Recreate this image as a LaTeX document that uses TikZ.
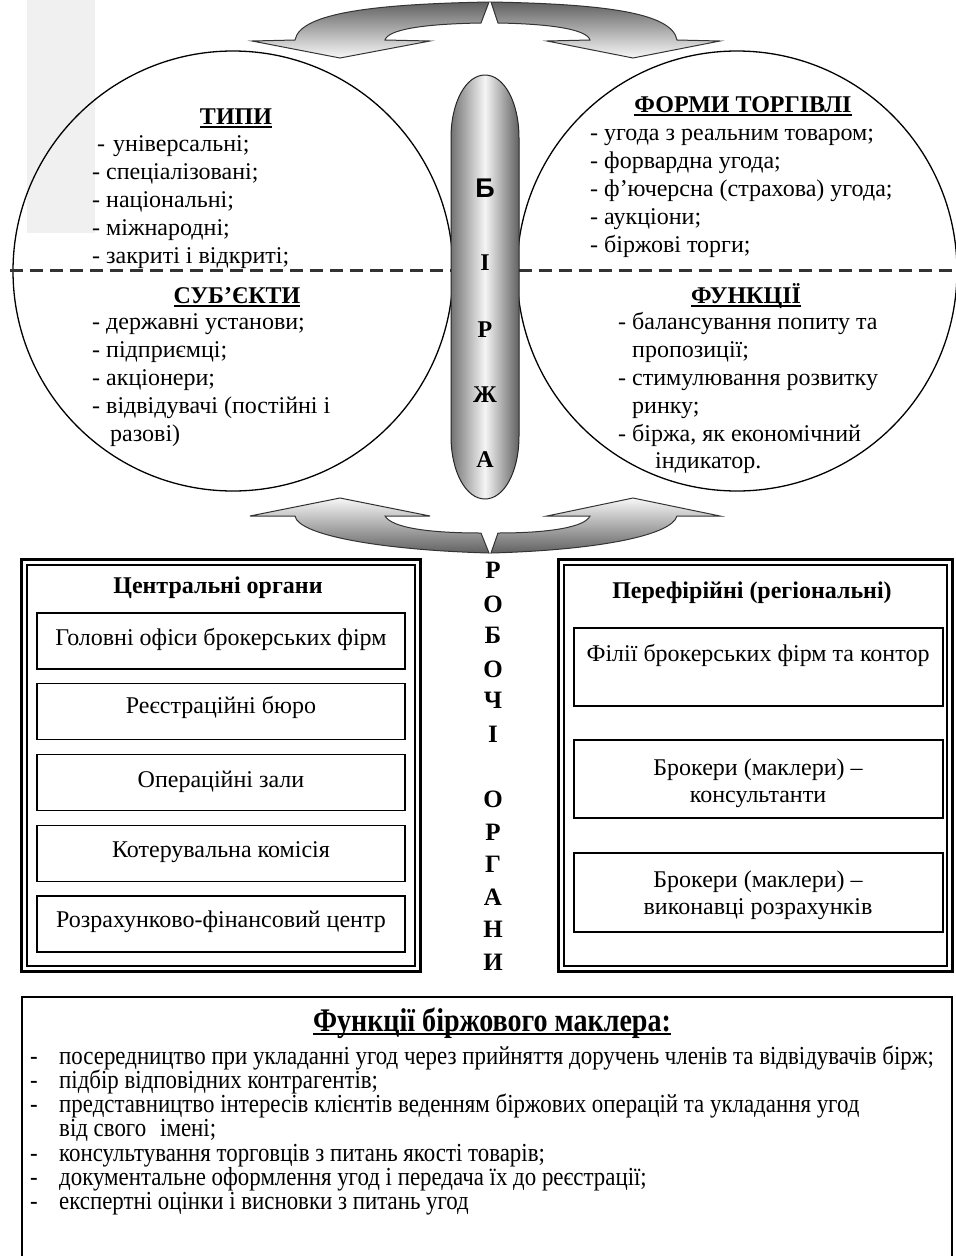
\documentclass[tikz,border=0pt]{standalone}
\usepackage{fontspec}
\setmainfont{Liberation Serif}
\newfontfamily\pillsans{Liberation Sans}
\newfontfamily\narrowserif{Liberation Serif}[FakeStretch=0.88]
\newfontfamily\narrowtitle{Liberation Serif}[FakeStretch=0.85]
% underlined heading with a heavier rule
\newcommand\headrule[1]{\setbox0=\hbox{#1}\rlap{\rule[-3.5pt]{\wd0}{1.8pt}}\box0}
\definecolor{panelgray}{HTML}{F0F0F0}
\begin{document}
\begin{tikzpicture}[x=1pt,y=-1pt,
  item/.style={anchor=base west, inner sep=0pt, font=\fontsize{24}{28}\selectfont},
  heading/.style={anchor=base, inner sep=0pt, font=\bfseries\fontsize{24}{28}\selectfont},
  boxtext/.style={anchor=base, inner sep=0pt, font=\fontsize{24}{28}\selectfont},
  cell/.style={draw, line width=1.3pt, rectangle, inner sep=0pt},
  spine/.style={anchor=base, inner sep=0pt, font=\bfseries\fontsize{24}{28}\selectfont},
  sideletter/.style={anchor=base, inner sep=0pt, font=\bfseries\fontsize{25}{30}\selectfont},
  brief/.style={anchor=base west, inner sep=0pt, font=\narrowserif\fontsize{26}{24}\selectfont},
  ring/.style={circle, draw, line width=1.3pt, minimum size=440pt, inner sep=0pt},
  dashline/.style={line width=3pt, draw=black!80, dash pattern=on 13pt off 7pt},
  bendarrow/.style={draw=black!80, line width=1pt, line join=miter},
]
\useasboundingbox (0,0) rectangle (956,1256);

% light panel behind the upper left block
\fill[panelgray] (27,0) rectangle (95,233);

% the two big circles
\node[ring] (lc) at (233,271) {};
\node[ring] (rc) at (737,271) {};

% dashed separators
\draw[dashline] (10,270) -- (452,270);
\draw[dashline] (519,270) -- (956,270);

% upper left: types
\node[heading] (typh) at (236,124) {\headrule{ТИПИ}};
\node[item] (typ1) at (97,151) {-\hspace{8pt}універсальні;};
\foreach \t [count=\i from 2] in {спеціалізовані;, національні;, міжнародні;, закриті і відкриті;}
  \node[item] (typ\i) at (92,151+28*\i-28) {- \t};

% upper right: forms of trade
\node[heading] (frmh) at (743,112) {\headrule{ФОРМИ ТОРГІВЛІ}};
\foreach \t [count=\i] in {угода з реальним товаром;, форвардна угода;, ф’ючерсна (страхова) угода;, аукціони;, біржові торги;}
  \node[item] (frm\i) at (590,112+28*\i) {- \t};

% lower left: subjects
\node[heading] (subh) at (237,303) {\headrule{СУБ’ЄКТИ}};
\foreach \t [count=\i] in {державні установи;, підприємці;, акціонери;, відвідувачі (постійні і}
  \node[item] (sub\i) at (92,301+28*\i) {- \t};
\node[item] (sub5) at (110,441) {разові)};

% lower right: functions
\node[heading] (funh) at (746,303) {\headrule{ФУНКЦІЇ}};
\node[item] (fun1) at (618,329) {- балансування попиту та};
\node[item] (fun2) at (632,357) {пропозиції;};
\node[item] (fun3) at (618,385) {- стимулювання розвитку};
\node[item] (fun4) at (632,413) {ринку;};
\node[item] (fun5) at (618,441) {- біржа, як економічний};
\node[item] (fun6) at (655,468) {індикатор.};

% curved double arrow on top
\path[bendarrow, top color=black!62, bottom color=black!3]
  (252,41) -- (340,58) -- (430,41) -- (385,40)
  .. controls (388,30) and (420,24) .. (481,23)
  -- (489,2)
  .. controls (380,4) and (300,12) .. (295,40) -- cycle;
\path[bendarrow, top color=black!62, bottom color=black!3]
  (491,2) .. controls (600,4) and (672,12) .. (677,40)
  -- (720,41) -- (633,58) -- (547,41) -- (590,40)
  .. controls (587,30) and (555,24) .. (498,23) -- cycle;

% curved double arrow below the circles
\path[bendarrow, top color=black!3, bottom color=black!62]
  (250,516) -- (340,498) -- (430,516) -- (385,516)
  .. controls (392,528) and (430,533) .. (481,533)
  -- (489,553)
  .. controls (380,550) and (298,535) .. (295,516) -- cycle;
\path[bendarrow, top color=black!3, bottom color=black!62]
  (491,553) .. controls (600,550) and (672,535) .. (677,516)
  -- (720,516) -- (633,498) -- (547,516) -- (590,516)
  .. controls (585,527) and (550,533) .. (498,533) -- cycle;

% central capsule
\path[draw=black!85, line width=1pt, left color=black!55, right color=black!62, middle color=black!4]
  (451,138) .. controls (451,102) and (466,75) .. (485,75)
  .. controls (504,75) and (519,102) .. (519,138)
  -- (519,436) .. controls (519,472) and (504,499) .. (485,499)
  .. controls (466,499) and (451,472) .. (451,436) -- cycle;
\node[anchor=base, inner sep=0pt, font=\pillsans\bfseries\fontsize{27}{30}\selectfont] (sp1) at (485,197) {Б};
\foreach \ch/\yy [count=\i from 2] in {І/270, Р/337, Ж/402, А/467}
  \node[spine] (sp\i) at (485,\yy) {\ch};

% vertical caption between the frames
\foreach \ch/\yy [count=\i] in {Р/578, О/612, Б/643, О/677, Ч/708, І/742, О/807, Р/840, Г/872, А/905, Н/937, И/970}
  \node[sideletter] (ro\i) at (493,\yy) {\ch};

% left frame: central bodies
\draw[line width=3pt] (21.5,559.5) rectangle (420.5,971.5);
\draw[line width=1.8pt] (27,565) rectangle (415,966);
\node[heading] (cenh) at (218,593) {Центральні органи};
\foreach \t/\yc/\yb [count=\i] in {Головні офіси брокерських фірм/641/645, Реєстраційні бюро/711.5/713, Операційні зали/782.5/787, Котерувальна комісія/853.5/857, Розрахунково-фінансовий центр/924/927}{
  \node[cell, minimum width=368pt, minimum height=56pt] (cb\i) at (221,\yc) {};
  \node[boxtext] (ct\i) at (221,\yb) {\t};
}

% right frame: regional bodies
\draw[line width=3pt] (558.5,559.5) rectangle (952.5,971.5);
\draw[line width=1.8pt] (564,565) rectangle (947,966);
\node[heading] (perh) at (752,598) {Перефірійні (регіональні)};
\node[cell, minimum width=369pt, minimum height=78pt] (rb1) at (758.5,667) {};
\node[cell, minimum width=369pt, minimum height=78pt] (rb2) at (758.5,779) {};
\node[cell, minimum width=369pt, minimum height=79pt] (rb3) at (758.5,892.5) {};
\node[boxtext] (rt1) at (758,661) {Філії брокерських фірм та контор};
\node[boxtext] (rt2a) at (758,775) {Брокери (маклери) –};
\node[boxtext] (rt2b) at (758,802) {консультанти};
\node[boxtext] (rt3a) at (758,887) {Брокери (маклери) –};
\node[boxtext] (rt3b) at (758,914) {виконавці розрахунків};

% bottom panel: broker functions
\draw[line width=1.5pt] (22,997) rectangle (952,1270);
\node[anchor=base, inner sep=0pt, font=\narrowtitle\bfseries\fontsize{33}{33}\selectfont] (brh) at (492,1031) {\headrule{Функції біржового маклера:}};
\foreach \t/\yy [count=\i] in {
  посередництво при укладанні угод через прийняття доручень членів та відвідувачів бірж;/1064,
  підбір відповідних контрагентів;/1088,
  представництво інтересів клієнтів веденням біржових операцій та укладання угод/1112,
  консультування торговців з питань якості товарів;/1161,
  документальне оформлення угод і передача їх до реєстрації;/1185,
  експертні оцінки і висновки з питань угод/1209}{
  \node[brief] (bl\i) at (30,\yy) {\makebox[29pt][l]{-}\t};
}
\node[brief] (bl7) at (59,1136) {від свого\hspace{14pt}імені;};
\end{tikzpicture}
\end{document}
